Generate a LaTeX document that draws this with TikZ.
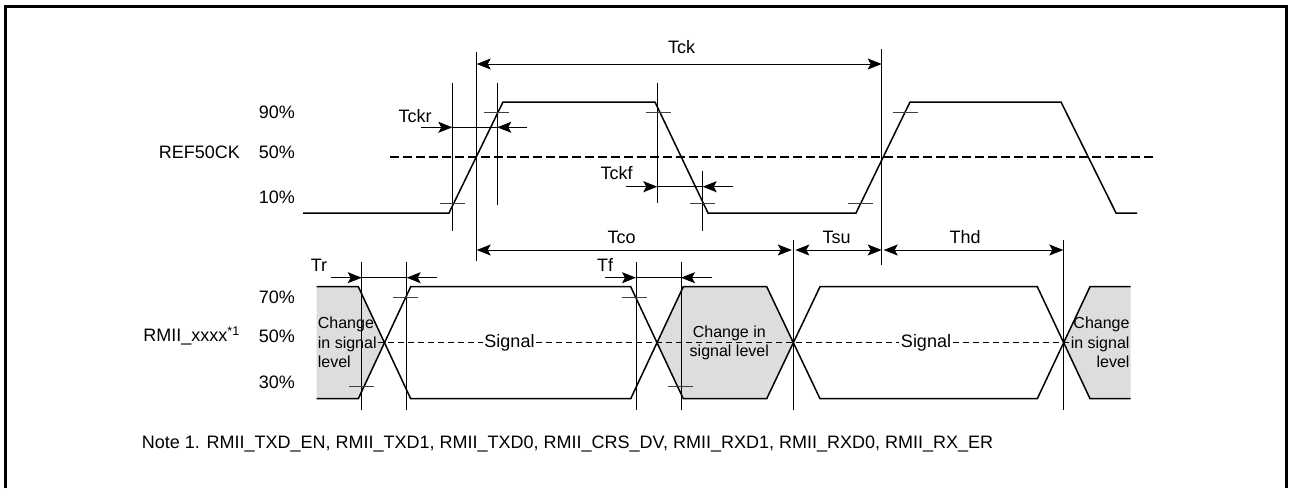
\documentclass[tikz,border=0pt]{standalone}
\usepackage{fontspec}
\setmainfont{Liberation Sans}
\usetikzlibrary{arrows.meta, positioning}

\definecolor{chgray}{RGB}{220,221,221}

\begin{document}
\begin{tikzpicture}[x=1pt,y=-1pt,>={Stealth[length=14pt,width=11pt,inset=3pt]},
        wave/.style={line width=1.5pt},
        guide/.style={line width=0.9pt},
        tickm/.style={line width=0.8pt,black!75},
        lbl/.style={font=\fontsize{18}{22}\selectfont,inner sep=0pt},
        chg/.style={font=\fontsize{16}{19.4}\selectfont,inner sep=1pt}]
        \useasboundingbox (0,0) rectangle (1289,488);
        \draw[line width=3pt] (5.5,488) -- (5.5,6.5) -- (1286.5,6.5) -- (1286.5,488);

        % level and signal names
        \node[lbl,anchor=east] (p90) at (295,112) {90\%};
        \node[lbl,anchor=east] (p50a) at (295,152) {50\%};
        \node[lbl,anchor=east] (p10) at (295,197) {10\%};
        \node[lbl,anchor=east] (p70) at (295,297) {70\%};
        \node[lbl,anchor=east] (p50b) at (295,336) {50\%};
        \node[lbl,anchor=east] (p30) at (295,382) {30\%};
        \node[lbl,anchor=east] (refck) at (240,152) {REF50CK};
        \node[lbl,anchor=east] (rmii) at (240,336) {RMII\_xxxx\textsuperscript{*1}};

        % grey areas
        \fill[chgray] (316.7,286.7) -- (358.3,286.7) -- (384.5,342.7) -- (358.3,398.7) -- (316.7,398.7) -- cycle;
        \fill[chgray] (657,342.7) -- (683.3,286.7) -- (766.7,286.7) -- (793.3,342.7) -- (766.7,398.7) -- (683.3,398.7) -- cycle;
        \fill[chgray] (1063.7,342.7) -- (1090,286.7) -- (1130.7,286.7) -- (1130.7,398.7) -- (1090,398.7) -- cycle;

        % REF50CK
        \draw[line width=1.6pt,dash pattern=on 9pt off 4pt] (390,157) -- (1153,157);
        \draw[wave] (303,213) -- (449,213) -- (503,102) -- (655,102) -- (708,213) -- (856,213)
                -- (910,102) -- (1061,102) -- (1116,213) -- (1137,213);

        % RMII data
        \draw[wave] (316.7,286.7) -- (358.3,286.7) -- (410.7,398.7) -- (630.7,398.7) -- (683.3,286.7) -- (766.7,286.7)
                -- (820,398.7) -- (1037.3,398.7) -- (1090,286.7) -- (1130.7,286.7);
        \draw[wave] (316.7,398.7) -- (358.3,398.7) -- (410.7,286.7) -- (630.7,286.7) -- (683.3,398.7) -- (766.7,398.7)
                -- (820,286.7) -- (1037.3,286.7) -- (1090,398.7) -- (1130.7,398.7);

        \node[chg,anchor=west,align=left] (chgL) at (316.7,342.5) {Change\\in signal\\level};
        \node[chg,align=center] (chgM) at (729.3,343) {Change in\\signal level};
        \node[chg,anchor=east,align=right] (chgR) at (1130.7,342.5) {Change\\in signal\\level};
        \node[lbl,inner sep=1.5pt] (sigA) at (509.5,342.5) {Signal};
        \node[lbl,inner sep=1.5pt] (sigB) at (926,342.5) {Signal};
        \draw[line width=1.1pt,dash pattern=on 6pt off 4pt] (chgL.east) -- (sigA.west)
                (sigA.east) -- (sigB.west)
                (sigB.east) -- (chgR.west);

        % guide lines
        \foreach \gx/\gt/\gb in {452.3/83/231, 476.7/52/261, 497.3/83/205, 657.3/83/203, 702.7/171/231,
                881.7/49/265, 361.7/262/410, 406.7/262/410, 636/262/410, 681/262/410, 793.3/240/410, 1063.3/240/410}
            \draw[guide] (\gx,\gt) -- (\gx,\gb);

        % level ticks
        \foreach \tx/\ty in {496.5/112, 658.3/112, 905.2/112, 452.5/203, 702.5/203, 860.5/203,
                405.3/297.7, 361.7/386.7, 634.7/297.7, 680.8/386.7}
            \draw[tickm] ({\tx-12.5},\ty) -- ({\tx+12.5},\ty);

        % periods
        \coordinate (tckA) at (476.7,64);
        \coordinate (tckB) at (881.7,64);
        \coordinate (tcoA) at (476.7,250);
        \coordinate (tcoB) at (793.3,250);
        \coordinate (tsuB) at (881.7,250);
        \coordinate (thdB) at (1063.3,250);
        \draw[guide,<->] (tckA) -- (tckB);
        \draw[guide,<->,shorten >=1.5pt] (tcoA) -- (tcoB);
        \draw[guide,<->,shorten <=2pt] (tcoB) -- (tsuB);
        \draw[guide,<->,shorten <=2pt] (tsuB) -- (thdB);
        \node[lbl] (tck) at (681.7,47) {Tck};
        \node[lbl] (tco) at (621.7,237) {Tco};
        \node[lbl] (tsu) at (836.7,237) {Tsu};
        \node[lbl] (thd) at (965,237) {Thd};

        % edge times
        \coordinate (ckrA) at (452.3,127.3);
        \coordinate (ckrB) at (497.3,127.3);
        \coordinate[left=31pt of ckrA] (ckrA0);
        \coordinate[right=30pt of ckrB] (ckrB0);
        \coordinate (ckfA) at (657.3,186.7);
        \coordinate (ckfB) at (702.7,186.7);
        \coordinate[left=31pt of ckfA] (ckfA0);
        \coordinate[right=30pt of ckfB] (ckfB0);
        \coordinate (trA) at (361.7,277.7);
        \coordinate (trB) at (406.7,277.7);
        \coordinate[left=31pt of trA] (trA0);
        \coordinate[right=30pt of trB] (trB0);
        \coordinate (tfA) at (636,277.7);
        \coordinate (tfB) at (681,277.7);
        \coordinate[left=31pt of tfA] (tfA0);
        \coordinate[right=31pt of tfB] (tfB0);
        \foreach \ea/\eb in {ckrA/ckrB, ckfA/ckfB, trA/trB, tfA/tfB} {
            \draw[guide] (\ea) -- (\eb);
            \draw[guide,->] (\ea0) -- (\ea);
            \draw[guide,->] (\eb0) -- (\eb);
        }
        \node[lbl] (tckr) at (415,116) {Tckr};
        \node[lbl] (tckf) at (616.7,172.7) {Tckf};
        \node[lbl] (tr) at (319,265) {Tr};
        \node[lbl] (tf) at (605,265) {Tf};

        % note
        \node[lbl,anchor=west] (note) at (141.7,444) {Note 1. RMII\_TXD\_EN, RMII\_TXD1, RMII\_TXD0, RMII\_CRS\_DV, RMII\_RXD1, RMII\_RXD0, RMII\_RX\_ER};
\end{tikzpicture}
\end{document}
